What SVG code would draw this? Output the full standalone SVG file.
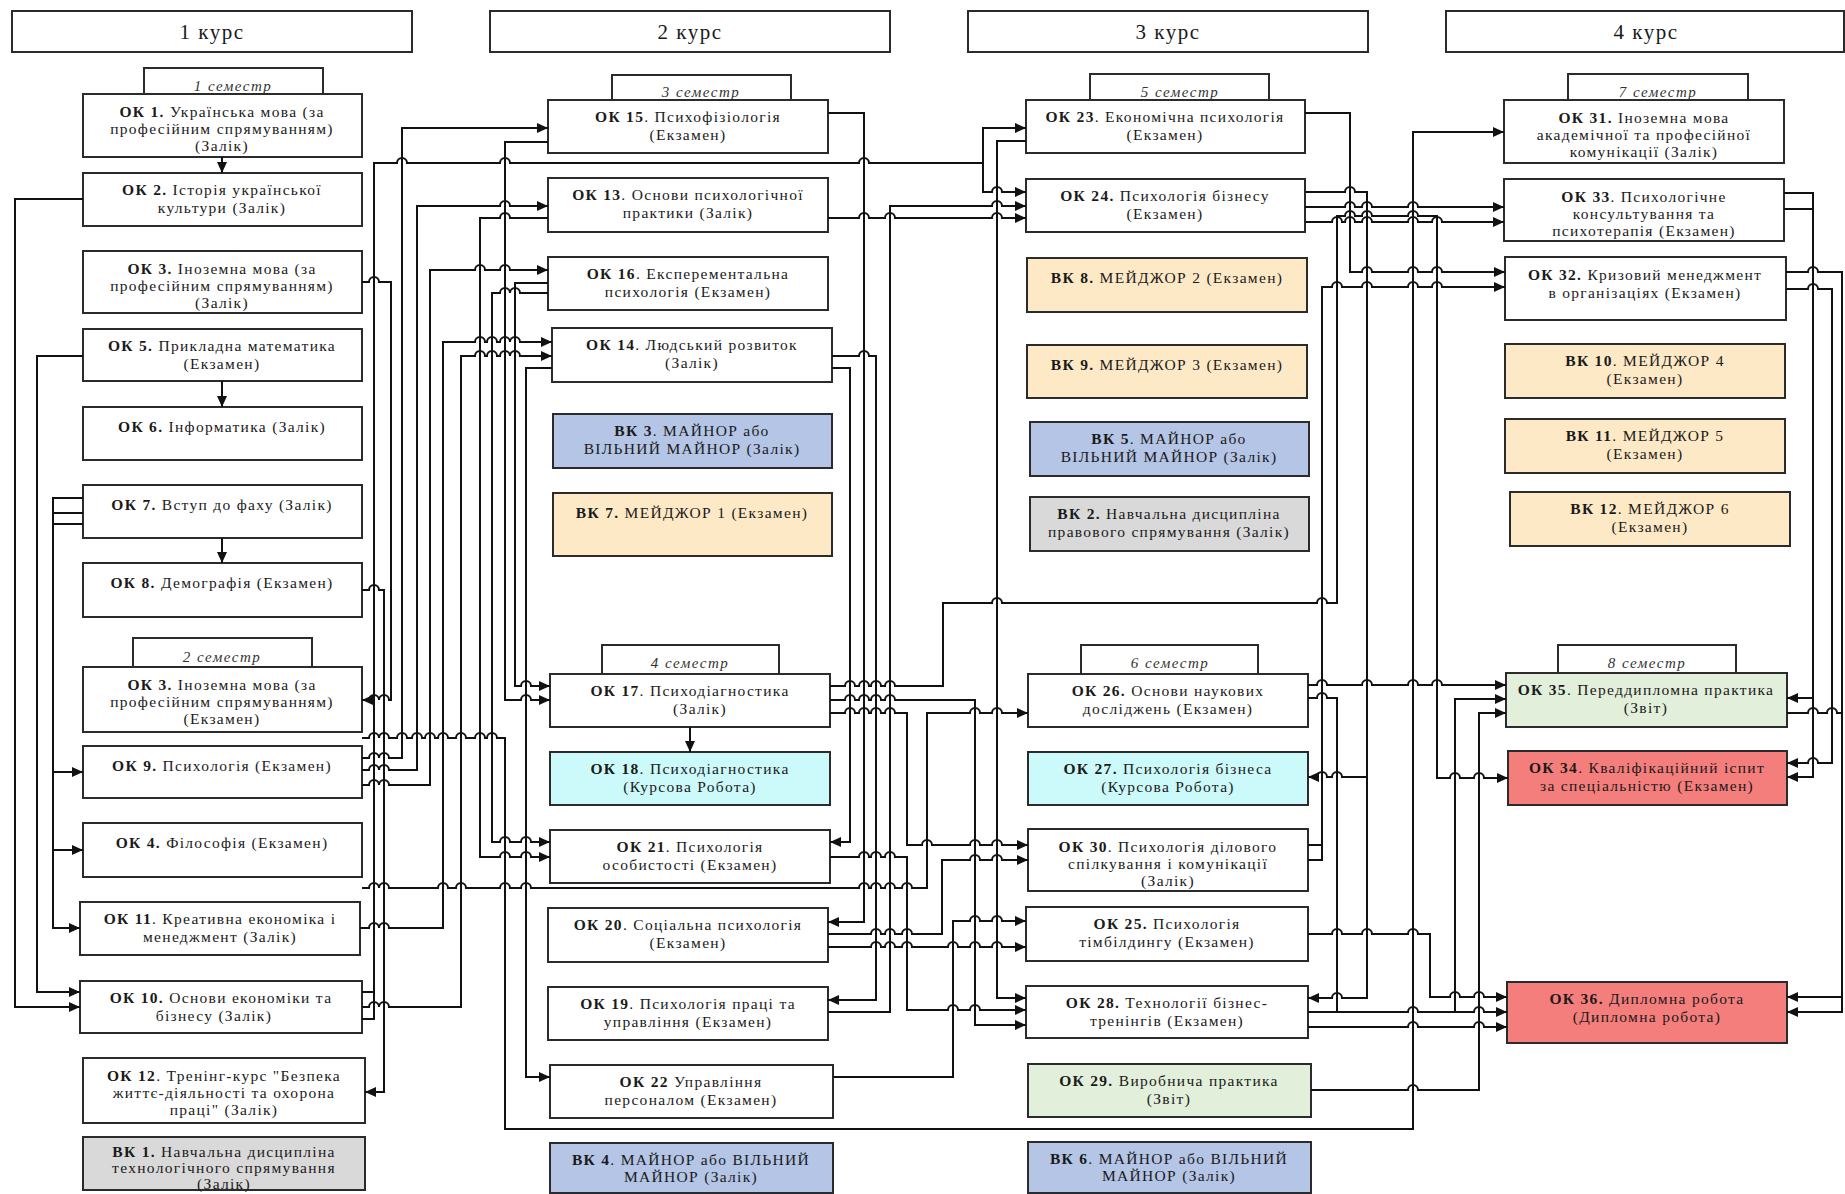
<svg xmlns="http://www.w3.org/2000/svg" width="1845" height="1194" viewBox="0 0 1845 1194">
<style>
.box{stroke:#2b2b2b;stroke-width:2}
.w{fill:#fff}.pe{fill:#fde9c6}.bl{fill:#b4c5e6}.gr{fill:#d9d9d9}.cy{fill:#ccf9f9}.gn{fill:#e2efda}.rd{fill:#f47e7c}
.t{font-family:"Liberation Serif","Times New Roman",serif;font-size:15.5px;fill:#1a1a1a;text-anchor:middle;letter-spacing:1.3px}
.b{font-weight:bold}
.h{font-family:"Liberation Serif","Times New Roman",serif;font-size:21px;fill:#1a1a1a;text-anchor:middle;letter-spacing:1.5px}
.s{font-family:"Liberation Serif","Times New Roman",serif;font-size:15px;font-style:italic;fill:#333;text-anchor:middle;letter-spacing:1.5px}
.c path{fill:none;stroke:#111;stroke-width:2}
.c path.ar{marker-end:url(#arr)}
</style>
<defs>
<marker id="arr" markerUnits="userSpaceOnUse" markerWidth="11" markerHeight="10" refX="11" refY="5" orient="auto"><path d="M0,0L11,5L0,10z" fill="#111"/></marker>
</defs>
<rect width="1845" height="1194" fill="#fff"/>

<g id="headers">
<g id="h1"><rect class="box w" x="12" y="11" width="400" height="41"/><text class="h" x="212" y="39">1 курс</text></g>
<g id="h2"><rect class="box w" x="490" y="11" width="400" height="41"/><text class="h" x="690" y="39">2 курс</text></g>
<g id="h3"><rect class="box w" x="968" y="11" width="400" height="41"/><text class="h" x="1168" y="39">3 курс</text></g>
<g id="h4"><rect class="box w" x="1446" y="11" width="398" height="41"/><text class="h" x="1646" y="39">4 курс</text></g>
</g>

<g id="semesters">
<g id="s1"><rect class="box w" x="144" y="68" width="179" height="30"/><text class="s" x="233" y="91">1 семестр</text></g>
<g id="s3"><rect class="box w" x="612" y="75" width="179" height="29"/><text class="s" x="701" y="97">3 семестр</text></g>
<g id="s5"><rect class="box w" x="1090" y="74" width="179" height="30"/><text class="s" x="1180" y="97">5 семестр</text></g>
<g id="s7"><rect class="box w" x="1568" y="74" width="180" height="30"/><text class="s" x="1658" y="97">7 семестр</text></g>
<g id="s2"><rect class="box w" x="133" y="638" width="179" height="33"/><text class="s" x="222" y="662">2 семестр</text></g>
<g id="s4"><rect class="box w" x="602" y="645" width="177" height="33"/><text class="s" x="690" y="668">4 семестр</text></g>
<g id="s6"><rect class="box w" x="1081" y="645" width="177" height="33"/><text class="s" x="1170" y="668">6 семестр</text></g>
<g id="s8"><rect class="box w" x="1558" y="645" width="178" height="32"/><text class="s" x="1647" y="668">8 семестр</text></g>
</g>

<g id="ok1"><rect class="box w" x="83" y="94" width="279" height="63"/><text class="t" x="222" y="117"><tspan class="b">ОК 1.</tspan> Українська мова  (за</text><text class="t" x="222" y="134">професійним спрямуванням)</text><text class="t" x="222" y="151">(Залік)</text></g>
<g id="ok2"><rect class="box w" x="83" y="173" width="279" height="53"/><text class="t" x="222" y="195"><tspan class="b">ОК 2.</tspan> Історія української</text><text class="t" x="222" y="213">культури (Залік)</text></g>
<g id="ok3"><rect class="box w" x="83" y="251" width="279" height="62"/><text class="t" x="222" y="274"><tspan class="b">ОК 3.</tspan>  Іноземна мова  (за</text><text class="t" x="222" y="291">професійним спрямуванням)</text><text class="t" x="222" y="308">(Залік)</text></g>
<g id="ok5"><rect class="box w" x="83" y="329" width="279" height="52"/><text class="t" x="222" y="351"><tspan class="b">ОК 5.</tspan> Прикладна математика</text><text class="t" x="222" y="369">(Екзамен)</text></g>
<g id="ok6"><rect class="box w" x="83" y="407" width="279" height="53"/><text class="t" x="222" y="432"><tspan class="b">ОК 6.</tspan> Інформатика (Залік)</text></g>
<g id="ok7"><rect class="box w" x="83" y="485" width="279" height="53"/><text class="t" x="222" y="510"><tspan class="b">ОК 7.</tspan> Вступ до фаху (Залік)</text></g>
<g id="ok8"><rect class="box w" x="83" y="563" width="279" height="54"/><text class="t" x="222" y="588"><tspan class="b">ОК 8.</tspan> Демографія (Екзамен)</text></g>
<g id="ok3b"><rect class="box w" x="83" y="667" width="279" height="65"/><text class="t" x="222" y="690"><tspan class="b">ОК 3.</tspan> Іноземна мова (за</text><text class="t" x="222" y="707">професійним спрямуванням)</text><text class="t" x="222" y="724">(Екзамен)</text></g>
<g id="ok9"><rect class="box w" x="83" y="746" width="279" height="52"/><text class="t" x="222" y="771"><tspan class="b">ОК 9.</tspan> Психологія (Екзамен)</text></g>
<g id="ok4"><rect class="box w" x="83" y="823" width="279" height="54"/><text class="t" x="222" y="848"><tspan class="b">ОК 4.</tspan> Філософія (Екзамен)</text></g>
<g id="ok11"><rect class="box w" x="80" y="902" width="280" height="53"/><text class="t" x="220" y="924"><tspan class="b">ОК 11</tspan>. Креативна економіка і</text><text class="t" x="220" y="942">менеджмент (Залік)</text></g>
<g id="ok10"><rect class="box w" x="80" y="981" width="282" height="52"/><text class="t" x="221" y="1003"><tspan class="b">ОК 10.</tspan> Основи економіки та</text><text class="t" x="214" y="1021">бізнесу (Залік)</text></g>
<g id="ok12"><rect class="box w" x="83" y="1058" width="282" height="65"/><text class="t" x="224" y="1081"><tspan class="b">ОК 12</tspan>. Тренінг-курс "Безпека</text><text class="t" x="224" y="1098">життє-діяльності  та охорона</text><text class="t" x="224" y="1115">праці" (Залік)</text></g>
<g id="vk1"><rect class="box gr" x="83" y="1137" width="282" height="53"/><text class="t" x="224" y="1157"><tspan class="b">ВК 1.</tspan> Навчальна дисципліна</text><text class="t" x="224" y="1173">технологічного спрямування</text><text class="t" x="224" y="1189">(Залік)</text></g>

<g id="ok15"><rect class="box w" x="548" y="100" width="280" height="53"/><text class="t" x="688" y="122"><tspan class="b">ОК 15</tspan>. Психофізіологія</text><text class="t" x="688" y="140">(Екзамен)</text></g>
<g id="ok13"><rect class="box w" x="548" y="178" width="280" height="54"/><text class="t" x="688" y="200"><tspan class="b">ОК 13</tspan>. Основи психологічної</text><text class="t" x="688" y="218">практики (Залік)</text></g>
<g id="ok16"><rect class="box w" x="548" y="257" width="280" height="53"/><text class="t" x="688" y="279"><tspan class="b">ОК 16</tspan>. Експерементальна</text><text class="t" x="688" y="297">психологія (Екзамен)</text></g>
<g id="ok14"><rect class="box w" x="552" y="328" width="280" height="54"/><text class="t" x="692" y="350"><tspan class="b">ОК 14</tspan>. Людський розвиток</text><text class="t" x="692" y="368">(Залік)</text></g>
<g id="vk3"><rect class="box bl" x="553" y="414" width="279" height="54"/><text class="t" x="692" y="436"><tspan class="b">ВК 3</tspan>. МАЙНОР або</text><text class="t" x="692" y="454">ВІЛЬНИЙ МАЙНОР (Залік)</text></g>
<g id="vk7"><rect class="box pe" x="553" y="493" width="279" height="63"/><text class="t" x="692" y="518"><tspan class="b">ВК 7.</tspan> МЕЙДЖОР 1 (Екзамен)</text></g>
<g id="ok17"><rect class="box w" x="550" y="674" width="280" height="53"/><text class="t" x="690" y="696"><tspan class="b">ОК 17</tspan>. Психодіагностика</text><text class="t" x="700" y="714">(Залік)</text></g>
<g id="ok18"><rect class="box cy" x="550" y="752" width="280" height="53"/><text class="t" x="690" y="774"><tspan class="b">ОК 18</tspan>. Психодіагностика</text><text class="t" x="690" y="792">(Курсова Робота)</text></g>
<g id="ok21"><rect class="box w" x="550" y="830" width="280" height="53"/><text class="t" x="690" y="852"><tspan class="b">ОК 21</tspan>. Психологія</text><text class="t" x="690" y="870">особистості (Екзамен)</text></g>
<g id="ok20"><rect class="box w" x="548" y="908" width="280" height="54"/><text class="t" x="688" y="930"><tspan class="b">ОК 20</tspan>. Соціальна психологія</text><text class="t" x="688" y="948">(Екзамен)</text></g>
<g id="ok19"><rect class="box w" x="548" y="987" width="280" height="53"/><text class="t" x="688" y="1009"><tspan class="b">ОК 19</tspan>. Психологія праці та</text><text class="t" x="688" y="1027">управління  (Екзамен)</text></g>
<g id="ok22"><rect class="box w" x="550" y="1065" width="283" height="53"/><text class="t" x="691" y="1087"><tspan class="b">ОК 22</tspan>  Управління</text><text class="t" x="691" y="1105">персоналом (Екзамен)</text></g>
<g id="vk4"><rect class="box bl" x="550" y="1143" width="283" height="50"/><text class="t" x="691" y="1165"><tspan class="b">ВК 4</tspan>. МАЙНОР або ВІЛЬНИЙ</text><text class="t" x="691" y="1182">МАЙНОР (Залік)</text></g>

<g id="ok23"><rect class="box w" x="1026" y="100" width="279" height="53"/><text class="t" x="1165" y="122"><tspan class="b">ОК 23</tspan>. Економічна психологія</text><text class="t" x="1165" y="140">(Екзамен)</text></g>
<g id="ok24"><rect class="box w" x="1026" y="179" width="279" height="53"/><text class="t" x="1165" y="201"><tspan class="b">ОК 24.</tspan> Психологія бізнесу</text><text class="t" x="1165" y="219">(Екзамен)</text></g>
<g id="vk8"><rect class="box pe" x="1027" y="258" width="280" height="54"/><text class="t" x="1167" y="283"><tspan class="b">ВК 8.</tspan> МЕЙДЖОР 2 (Екзамен)</text></g>
<g id="vk9"><rect class="box pe" x="1027" y="345" width="280" height="53"/><text class="t" x="1167" y="370"><tspan class="b">ВК 9.</tspan> МЕЙДЖОР 3 (Екзамен)</text></g>
<g id="vk5"><rect class="box bl" x="1030" y="422" width="279" height="54"/><text class="t" x="1169" y="444"><tspan class="b">ВК 5</tspan>. МАЙНОР або</text><text class="t" x="1169" y="462">ВІЛЬНИЙ МАЙНОР (Залік)</text></g>
<g id="vk2"><rect class="box gr" x="1030" y="497" width="279" height="54"/><text class="t" x="1169" y="519"><tspan class="b">ВК 2.</tspan> Навчальна дисципліна</text><text class="t" x="1169" y="537">правового спрямування (Залік)</text></g>
<g id="ok26"><rect class="box w" x="1028" y="674" width="280" height="53"/><text class="t" x="1168" y="696"><tspan class="b">ОК 26.</tspan> Основи наукових</text><text class="t" x="1168" y="714">досліджень (Екзамен)</text></g>
<g id="ok27"><rect class="box cy" x="1028" y="752" width="280" height="53"/><text class="t" x="1168" y="774"><tspan class="b">ОК 27.</tspan> Психологія бізнеса</text><text class="t" x="1168" y="792">(Курсова Робота)</text></g>
<g id="ok30"><rect class="box w" x="1028" y="829" width="280" height="62"/><text class="t" x="1168" y="852"><tspan class="b">ОК 30</tspan>. Психологія ділового</text><text class="t" x="1168" y="869">спілкування і комунікації</text><text class="t" x="1168" y="886">(Залік)</text></g>
<g id="ok25"><rect class="box w" x="1026" y="907" width="282" height="54"/><text class="t" x="1167" y="929"><tspan class="b">ОК 25.</tspan> Психологія</text><text class="t" x="1167" y="947">тімбілдингу  (Екзамен)</text></g>
<g id="ok28"><rect class="box w" x="1026" y="986" width="282" height="52"/><text class="t" x="1167" y="1008"><tspan class="b">ОК 28.</tspan> Технології бізнес-</text><text class="t" x="1167" y="1026">тренінгів   (Екзамен)</text></g>
<g id="ok29"><rect class="box gn" x="1028" y="1064" width="283" height="53"/><text class="t" x="1169" y="1086"><tspan class="b">ОК 29.</tspan> Виробнича практика</text><text class="t" x="1169" y="1104">(Звіт)</text></g>
<g id="vk6"><rect class="box bl" x="1028" y="1142" width="283" height="51"/><text class="t" x="1169" y="1164"><tspan class="b">ВК 6</tspan>. МАЙНОР або ВІЛЬНИЙ</text><text class="t" x="1169" y="1181">МАЙНОР (Залік)</text></g>

<g id="ok31"><rect class="box w" x="1504" y="100" width="280" height="63"/><text class="t" x="1644" y="123"><tspan class="b">ОК 31.</tspan> Іноземна мова</text><text class="t" x="1644" y="140">академічної та  професійної</text><text class="t" x="1644" y="157">комунікації (Залік)</text></g>
<g id="ok33"><rect class="box w" x="1504" y="179" width="280" height="62"/><text class="t" x="1644" y="202"><tspan class="b">ОК 33</tspan>. Психологічне</text><text class="t" x="1644" y="219">консультування та</text><text class="t" x="1644" y="236">психотерапія (Екзамен)</text></g>
<g id="ok32"><rect class="box w" x="1505" y="257" width="281" height="63"/><text class="t" x="1645" y="280"><tspan class="b">ОК 32.</tspan> Кризовий менеджмент</text><text class="t" x="1645" y="298">в організаціях  (Екзамен)</text></g>
<g id="vk10"><rect class="box pe" x="1505" y="344" width="280" height="54"/><text class="t" x="1645" y="366"><tspan class="b">ВК 10</tspan>. МЕЙДЖОР 4</text><text class="t" x="1645" y="384">(Екзамен)</text></g>
<g id="vk11"><rect class="box pe" x="1505" y="419" width="280" height="54"/><text class="t" x="1645" y="441"><tspan class="b">ВК 11</tspan>. МЕЙДЖОР 5</text><text class="t" x="1645" y="459">(Екзамен)</text></g>
<g id="vk12"><rect class="box pe" x="1510" y="492" width="280" height="54"/><text class="t" x="1650" y="514"><tspan class="b">ВК 12</tspan>. МЕЙДЖОР 6</text><text class="t" x="1650" y="532">(Екзамен)</text></g>
<g id="ok35"><rect class="box gn" x="1506" y="673" width="281" height="54"/><text class="t" x="1646" y="695"><tspan class="b">ОК 35</tspan>. Переддипломна практика</text><text class="t" x="1646" y="713">(Звіт)</text></g>
<g id="ok34"><rect class="box rd" x="1508" y="751" width="279" height="54"/><text class="t" x="1647" y="773"><tspan class="b">ОК 34</tspan>. Кваліфікаційний іспит</text><text class="t" x="1647" y="791">за спеціальністю (Екзамен)</text></g>
<g id="ok36"><rect class="box rd" x="1507" y="982" width="280" height="61"/><text class="t" x="1647" y="1004"><tspan class="b">ОК 36.</tspan> Дипломна робота</text><text class="t" x="1647" y="1022">(Дипломна робота)</text></g>

<g id="connectors" class="c">
<path class="ar" d="M222 157V173"/>
<path class="ar" d="M222 381V407"/>
<path class="ar" d="M222 538V563"/>
<path class="ar" d="M83 199H15V1007H80"/>
<path class="ar" d="M83 356H37V992H80"/>
<path class="ar" d="M83 498H53V772H83"/>
<path class="ar" d="M83 513H53V850H83"/>
<path class="ar" d="M83 524H53V928H80"/>
<path class="ar" d="M362 282H369a5 5 0 0 1 10 0H391V700H389a5 5 0 0 0-10 0a5 5 0 0 0-10 0H362"/>
<path class="ar" d="M362 590H369a5 5 0 0 1 10 0H384V1092H365"/>
<path class="ar" d="M362 1019H374V163H397a5 5 0 0 1 10 0H500a5 5 0 0 1 10 0H859a5 5 0 0 1 10 0H983V128H1026"/>
<path class="ar" d="M983 163V192H992a5 5 0 0 1 10 0H1026"/>
<path d="M362 992H374"/>
<path class="ar" d="M362 758H369a5 5 0 0 1 10 0a5 5 0 0 1 10 0H402V128H548"/>
<path class="ar" d="M362 770H369a5 5 0 0 1 10 0a5 5 0 0 1 10 0H417V206H500a5 5 0 0 1 10 0H548"/>
<path class="ar" d="M362 785H369a5 5 0 0 1 10 0a5 5 0 0 1 10 0H430V270H475a5 5 0 0 1 10 0H500a5 5 0 0 1 10 0H548"/>
<path class="ar" d="M360 928H369a5 5 0 0 1 10 0a5 5 0 0 1 10 0H443V342H475a5 5 0 0 1 10 0H487a5 5 0 0 1 10 0H500a5 5 0 0 1 10 0a5 5 0 0 1 10 0H552"/>
<path class="ar" d="M362 1007H369a5 5 0 0 1 10 0a5 5 0 0 1 10 0H461V356H475a5 5 0 0 1 10 0H487a5 5 0 0 1 10 0H500a5 5 0 0 1 10 0a5 5 0 0 1 10 0H552"/>
<path class="ar" d="M362 888H369a5 5 0 0 1 10 0a5 5 0 0 1 10 0H438a5 5 0 0 1 10 0H456a5 5 0 0 1 10 0H500a5 5 0 0 1 10 0H521a5 5 0 0 1 10 0H859a5 5 0 0 1 10 0H871a5 5 0 0 1 10 0H885a5 5 0 0 1 10 0H902a5 5 0 0 1 10 0H927V713H970a5 5 0 0 1 10 0H992a5 5 0 0 1 10 0H1028"/>
<path class="ar" d="M362 738H369a5 5 0 0 1 10 0a5 5 0 0 1 10 0H397a5 5 0 0 1 10 0H412a5 5 0 0 1 10 0H425a5 5 0 0 1 10 0H438a5 5 0 0 1 10 0H456a5 5 0 0 1 10 0H475a5 5 0 0 1 10 0H487a5 5 0 0 1 10 0H505V1129H1413V132H1504"/>
<path class="ar" d="M548 142H505V700H521a5 5 0 0 1 10 0H550"/>
<path class="ar" d="M548 283H515V686H521a5 5 0 0 1 10 0H550"/>
<path class="ar" d="M548 293H520a5 5 0 0 0-10 0a5 5 0 0 0-10 0H492V842H500a5 5 0 0 1 10 0H521a5 5 0 0 1 10 0H550"/>
<path class="ar" d="M548 218H510a5 5 0 0 0-10 0H480V857H500a5 5 0 0 1 10 0H521a5 5 0 0 1 10 0H550"/>
<path class="ar" d="M552 368H526V1077H550"/>
<path class="ar" d="M690 727V752"/>
<path class="ar" d="M828 113H864V922H828"/>
<path class="ar" d="M832 368H850V842H830"/>
<path class="ar" d="M832 356H859a5 5 0 0 1 10 0H876V1000H828"/>
<path class="ar" d="M828 1012H890V206H992a5 5 0 0 1 10 0H1026"/>
<path class="ar" d="M828 218H859a5 5 0 0 1 10 0H885a5 5 0 0 1 10 0H992a5 5 0 0 1 10 0H1026"/>
<path class="ar" d="M830 713H845a5 5 0 0 1 10 0H859a5 5 0 0 1 10 0H871a5 5 0 0 1 10 0H885a5 5 0 0 1 10 0H907V845H922a5 5 0 0 1 10 0H970a5 5 0 0 1 10 0H992a5 5 0 0 1 10 0H1028"/>
<path class="ar" d="M830 686H845a5 5 0 0 1 10 0H859a5 5 0 0 1 10 0H871a5 5 0 0 1 10 0H885a5 5 0 0 1 10 0H943V603H992a5 5 0 0 1 10 0H1317a5 5 0 0 1 10 0H1337V216H1345a5 5 0 0 1 10 0H1362a5 5 0 0 1 10 0H1408a5 5 0 0 1 10 0H1437V778H1450a5 5 0 0 1 10 0H1474a5 5 0 0 1 10 0H1508"/>
<path class="ar" d="M830 700H845a5 5 0 0 1 10 0H859a5 5 0 0 1 10 0H871a5 5 0 0 1 10 0H885a5 5 0 0 1 10 0H975V1025H1026"/>
<path class="ar" d="M830 857H859a5 5 0 0 1 10 0H871a5 5 0 0 1 10 0H885a5 5 0 0 1 10 0H907V1010H948a5 5 0 0 1 10 0H970a5 5 0 0 1 10 0H1026"/>
<path class="ar" d="M828 934H871a5 5 0 0 1 10 0H885a5 5 0 0 1 10 0H902a5 5 0 0 1 10 0H942V860H970a5 5 0 0 1 10 0H992a5 5 0 0 1 10 0H1028"/>
<path class="ar" d="M828 947H871a5 5 0 0 1 10 0H885a5 5 0 0 1 10 0H902a5 5 0 0 1 10 0H948a5 5 0 0 1 10 0H970a5 5 0 0 1 10 0H992a5 5 0 0 1 10 0H1026"/>
<path class="ar" d="M833 1077H953V921H970a5 5 0 0 1 10 0H992a5 5 0 0 1 10 0H1026"/>
<path class="ar" d="M1026 141H997V998H1026"/>
<path class="ar" d="M1305 113H1350V272H1362a5 5 0 0 1 10 0H1408a5 5 0 0 1 10 0H1432a5 5 0 0 1 10 0H1505"/>
<path class="ar" d="M1305 192H1345a5 5 0 0 1 10 0H1367V998H1342a5 5 0 0 0-10 0H1308"/>
<path class="ar" d="M1367 777H1342a5 5 0 0 0-10 0H1327a5 5 0 0 0-10 0H1308"/>
<path class="ar" d="M1305 207H1345a5 5 0 0 1 10 0H1362a5 5 0 0 1 10 0H1408a5 5 0 0 1 10 0H1504"/>
<path class="ar" d="M1305 222H1332a5 5 0 0 1 10 0H1345a5 5 0 0 1 10 0H1362a5 5 0 0 1 10 0H1408a5 5 0 0 1 10 0H1432a5 5 0 0 1 10 0H1504"/>
<path class="ar" d="M1308 860H1322V287H1332a5 5 0 0 1 10 0H1362a5 5 0 0 1 10 0H1408a5 5 0 0 1 10 0H1432a5 5 0 0 1 10 0H1505"/>
<path d="M1308 845H1322"/>
<path class="ar" d="M1308 685H1317a5 5 0 0 1 10 0H1362a5 5 0 0 1 10 0H1408a5 5 0 0 1 10 0H1432a5 5 0 0 1 10 0H1506"/>
<path class="ar" d="M1308 698H1317a5 5 0 0 1 10 0H1337V1012H1408a5 5 0 0 1 10 0H1474a5 5 0 0 1 10 0H1507"/>
<path d="M1308 1012H1337"/>
<path class="ar" d="M1455 1012V699H1506"/>
<path class="ar" d="M1308 934H1332a5 5 0 0 1 10 0H1362a5 5 0 0 1 10 0H1408a5 5 0 0 1 10 0H1430V997H1450a5 5 0 0 1 10 0H1474a5 5 0 0 1 10 0H1507"/>
<path class="ar" d="M1308 1027H1408a5 5 0 0 1 10 0H1474a5 5 0 0 1 10 0H1507"/>
<path class="ar" d="M1311 1090H1408a5 5 0 0 1 10 0H1479V713H1506"/>
<path class="ar" d="M1784 193H1813V777H1787"/>
<path d="M1784 209H1813"/>
<path class="ar" d="M1813 698H1787"/>
<path class="ar" d="M1786 289H1808a5 5 0 0 1 10 0H1832V763H1818a5 5 0 0 0-10 0H1787"/>
<path class="ar" d="M1786 272H1808a5 5 0 0 1 10 0H1842V997H1787"/>
<path class="ar" d="M1787 713H1808a5 5 0 0 1 10 0H1827a5 5 0 0 1 10 0H1842V1012H1787"/>
</g>
</svg>
